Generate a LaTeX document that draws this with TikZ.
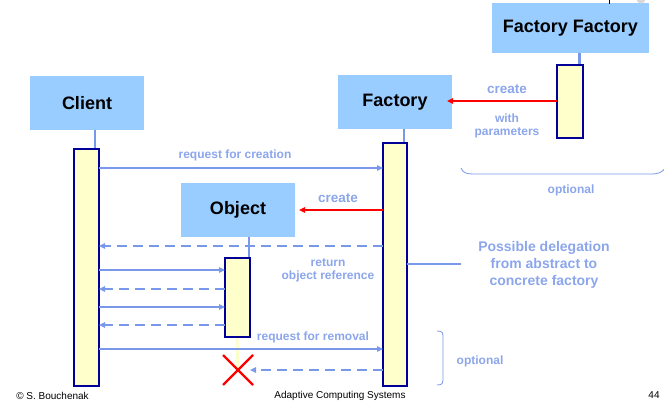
\documentclass[tikz,border=0pt]{standalone}
\usepackage{fontspec}
\setmainfont{Liberation Sans}
\usetikzlibrary{arrows.meta}
\definecolor{boxblue}{RGB}{153,204,255}
\definecolor{barfill}{RGB}{255,255,204}
\definecolor{barline}{RGB}{0,0,153}
\definecolor{msgblue}{RGB}{122,152,234}
\definecolor{lblblue}{RGB}{140,166,236}
\tikzset{
  objbox/.style={fill=boxblue, draw=none, minimum width=114pt, minimum height=54pt,
    inner sep=0pt, outer sep=0pt, font=\fontsize{18}{20}\selectfont\bfseries},
  actbar/.style={fill=barfill, draw=barline, line width=1.6pt, inner sep=0pt, outer sep=0pt},
  life/.style={msgblue, line width=2.2pt},
  call/.style={msgblue, line width=1.8pt, -{Triangle[length=6pt,width=5.5pt]}},
  reply/.style={call, dash pattern=on 10pt off 6pt},
  make/.style={red, line width=1.8pt, -{Triangle[length=6pt,width=5.5pt]}},
  lbl/.style={text=lblblue, font=\fontsize{12}{13.5}\selectfont\bfseries, align=center, inner sep=0pt},
  foot/.style={font=\fontsize{10}{12}\selectfont, inner sep=0pt},
  brace/.style={msgblue, line width=0.8pt},
}
\begin{document}
\begin{tikzpicture}[x=1pt, y=-1pt]
\useasboundingbox (0,0) rectangle (664,401);

% participants
\node[objbox] (client) at (87,103) {Client};
\node[objbox] (fact) at (395,102) {Factory};
\node[objbox, minimum width=157pt, minimum height=50pt] (ff) at (570.5,28) {Factory Factory};
\node[objbox] (obj) at (238,210) {Object};

% lifelines between header and activation
\draw[life] ([xshift=8pt]client.south) -- ++(0,19);
\draw[life] ([xshift=9pt]fact.south) -- ++(0,14);
\draw[life] ([xshift=9pt]ff.south) -- ++(0,12);
\draw[life] ([xshift=11pt]obj.south) -- ++(0,21);

% activation bars
\node[actbar, minimum width=25pt, minimum height=237pt] (cbar) at (86.5,267.5) {};
\node[actbar, minimum width=24pt, minimum height=243pt] (fbar) at (395,264.5) {};
\node[actbar, minimum width=26pt, minimum height=73pt] (ffbar) at (570,101.5) {};

% end of the object's life
\coordinate (xmark) at (238,370);
\draw[barfill, line width=3pt] (237,337) -- (xmark);
\node[actbar, minimum width=25pt, minimum height=79pt] (obar) at (237.5,297.5) {};
\draw[red, line width=2.2pt] ([shift={(-15,-15)}]xmark) -- ([shift={(15,15)}]xmark);
\draw[red, line width=2.2pt] ([shift={(-15,15)}]xmark) -- ([shift={(15,-15)}]xmark);

% message levels
\coordinate (m0) at (0,101);
\coordinate (m1) at (0,168);
\coordinate (m2) at (0,210);
\coordinate (m3) at (0,246);
\coordinate (m4) at (0,270);
\coordinate (m5) at (0,289);
\coordinate (m6) at (0,307);
\coordinate (m7) at (0,325);
\coordinate (m8) at (0,349);
\coordinate (m9) at (0,370);

% creation of the factory
\draw[make] (ffbar.west |- m0) -- ([xshift=-5pt]fact.east |- m0);
\node[lbl, font=\fontsize{13.5}{15}\selectfont\bfseries] (lcreate1) at (507,89) {create};
\node[lbl] (lwith) at (507,126) {with\\parameters};

% messages
\draw[call] (cbar.east |- m1) -- (fbar.west |- m1);
\node[lbl] (lreq) at (235,155) {request for creation};
\draw[make] (fbar.west |- m2) -- ([xshift=4pt]obj.east |- m2);
\node[lbl, font=\fontsize{13.5}{15}\selectfont\bfseries] (lcreate2) at (338,198) {create};
\draw[reply] (fbar.west |- m3) -- (cbar.east |- m3);
\node[lbl] (lret) at (328,270.5) {return\\object reference};
\draw[call] (cbar.east |- m4) -- (obar.west |- m4);
\draw[reply] (obar.west |- m5) -- (cbar.east |- m5);
\draw[call] (cbar.east |- m6) -- (obar.west |- m6);
\draw[reply] (obar.west |- m7) -- (cbar.east |- m7);
\draw[call] (cbar.east |- m8) -- (fbar.west |- m8);
\node[lbl] (lrem) at (313,337) {request for removal};
\draw[reply] (fbar.west |- m9) -- ([xshift=12pt]xmark);

% delegation note
\node[lbl, font=\fontsize{14}{17}\selectfont\bfseries] (deleg) at (544,265) {Possible delegation\\from abstract to\\concrete factory};
\coordinate (delegend) at (461,264);
\draw[life, line width=2pt] (fbar.east |- delegend) -- (delegend);

% optional parts
\draw[brace] (461,168) .. controls (463,174) and (468,174) .. (478,174) -- (650,174)
  .. controls (658,174) and (662,173) .. (666,167);
\node[lbl] (opt1) at (571,190.5) {optional};
\draw[brace] (437,331) .. controls (443,331) and (443,333) .. (443,339) -- (443,377)
  .. controls (443,383) and (443,385) .. (437,385);
\node[lbl] (opt2) at (480,361) {optional};

% footer
\node[foot] (fl) at (52.5,395.5) {\textcopyright\ S. Bouchenak};
\node[foot] (fc) at (340,395.5) {Adaptive Computing Systems};
\node[foot] (fr) at (654,395.5) {44};

% fragment at the top edge
\draw[black, line width=0.6pt] (609,0) -- (609,4);
\fill[black!15] (641,-1) circle (4.5);
\end{tikzpicture}
\end{document}
